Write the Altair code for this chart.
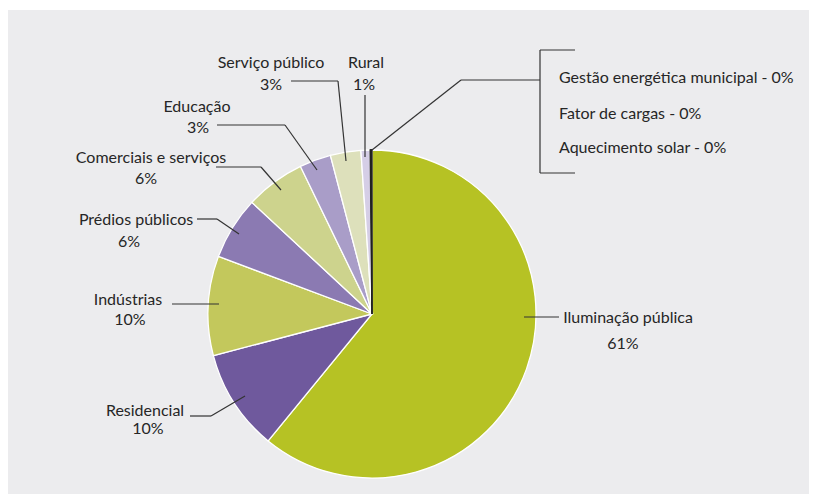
import altair as alt
import pandas as pd

# ---- data ----
names = ["Iluminação pública", "Residencial", "Indústrias", "Prédios públicos",
         "Comerciais e serviços", "Educação", "Serviço público", "Rural",
         "Gestão energética municipal", "Fator de cargas", "Aquecimento solar"]
values = [60.9, 10.0, 9.8, 6.2, 5.9, 3.1, 3.0, 0.9, 0.06, 0.06, 0.06]
pct_labels = ["61%", "10%", "10%", "6%", "6%", "3%", "3%", "1%", "0%", "0%", "0%"]
colors = ["#B6C224", "#6F599D", "#C3C85C", "#8B7AB2", "#CDD38D", "#A99DC8",
          "#DDE0BB", "#D5CEE6", "#222222", "#222222", "#222222"]
strokes = ["#FFFFFF"] * 8 + ["#222222"] * 3

slices = pd.DataFrame({"name": names, "value": values, "idx": list(range(len(names)))})

# ---- layout (label text positions, in page pixels) ----
label_rows = [
    # text, x, y, align
    ("Serviço público", 271, 68, "center"), (pct_labels[6], 271, 90, "center"),
    ("Rural", 366, 68, "center"), (pct_labels[7], 364, 90, "center"),
    ("Educação", 197, 112, "center"), (pct_labels[5], 198, 133, "center"),
    ("Comerciais e serviços", 151, 163, "center"), (pct_labels[4], 146, 184, "center"),
    ("Prédios públicos", 136, 225, "center"), (pct_labels[3], 129, 247, "center"),
    ("Indústrias", 128, 305, "center"), (pct_labels[2], 130, 325, "center"),
    ("Residencial", 145, 416, "center"), (pct_labels[1], 148, 434, "center"),
    ("Iluminação pública", 628, 323, "center"), (pct_labels[0], 623, 349, "center"),
    (names[8] + " - " + pct_labels[8], 559, 83, "left"),
    (names[9] + " - " + pct_labels[9], 559, 119, "left"),
    (names[10] + " - " + pct_labels[10], 559, 153, "left"),
]
labels = pd.DataFrame(label_rows, columns=["text", "x", "y", "align"])

seg_rows = [
    (365, 95, 365, 157),            # Rural
    (291, 81, 338, 81), (338, 81, 346, 161),   # Serviço público
    (217, 125, 285, 125), (285, 125, 317, 170),  # Educação
    (216, 167, 261, 167), (261, 167, 281, 190),  # Comerciais
    (197, 219, 217, 219), (217, 219, 239, 234),  # Prédios
    (172, 304, 219, 304),           # Indústrias
    (190, 416, 211, 416), (211, 416, 245, 396),  # Residencial
    (524, 317, 559, 317),           # Iluminação
    (540, 50, 540, 173), (540, 50, 575, 50), (540, 173, 575, 173),  # bracket
    (540, 80, 461, 80), (461, 80, 372, 150),    # bracket leader
]
segs = pd.DataFrame(seg_rows, columns=["x", "y", "x2", "y2"])

W, H = 801, 484
X0, Y0 = 8, 10
xs = alt.Scale(domain=[X0, X0 + W], zero=False, nice=False)
ys = alt.Scale(domain=[Y0, Y0 + H], zero=False, nice=False, reverse=True)

pie = alt.Chart(slices).mark_arc(radius=164, strokeWidth=1.3).encode(
    theta=alt.Theta("value:Q", stack=True),
    color=alt.Color("name:N", scale=alt.Scale(domain=names, range=colors), legend=None),
    stroke=alt.Stroke("name:N", scale=alt.Scale(domain=names, range=strokes), legend=None),
    order=alt.Order("idx:Q", sort="ascending"),
    x=alt.value(372 - X0),
    y=alt.value(314 - Y0),
)

lines = alt.Chart(segs).mark_rule(color="#333333", strokeWidth=1.2).encode(
    x=alt.X("x:Q", scale=xs, axis=None),
    y=alt.Y("y:Q", scale=ys, axis=None),
    x2="x2:Q",
    y2="y2:Q",
)

font = "Lato"
fs = 16
txt_c = alt.Chart(labels[labels["align"] == "center"]).mark_text(
    align="center", baseline="alphabetic", font=font, fontSize=fs, color="#262626"
).encode(
    x=alt.X("x:Q", scale=xs, axis=None),
    y=alt.Y("y:Q", scale=ys, axis=None),
    text="text:N",
)
txt_l = alt.Chart(labels[labels["align"] == "left"]).mark_text(
    align="left", baseline="alphabetic", font=font, fontSize=fs, color="#262626"
).encode(
    x=alt.X("x:Q", scale=xs, axis=None),
    y=alt.Y("y:Q", scale=ys, axis=None),
    text="text:N",
)

chart = alt.layer(pie, lines, txt_c, txt_l).properties(
    width=W, height=H,
    autosize=alt.AutoSizeParams(type="none"),
    padding={"left": 0, "top": 2, "right": 0, "bottom": 0},
    background="#FFFFFF",
).configure_view(fill="#ECECEE", stroke=None)

chart.save("out.html", embed_options={"renderer": "svg", "actions": False})
